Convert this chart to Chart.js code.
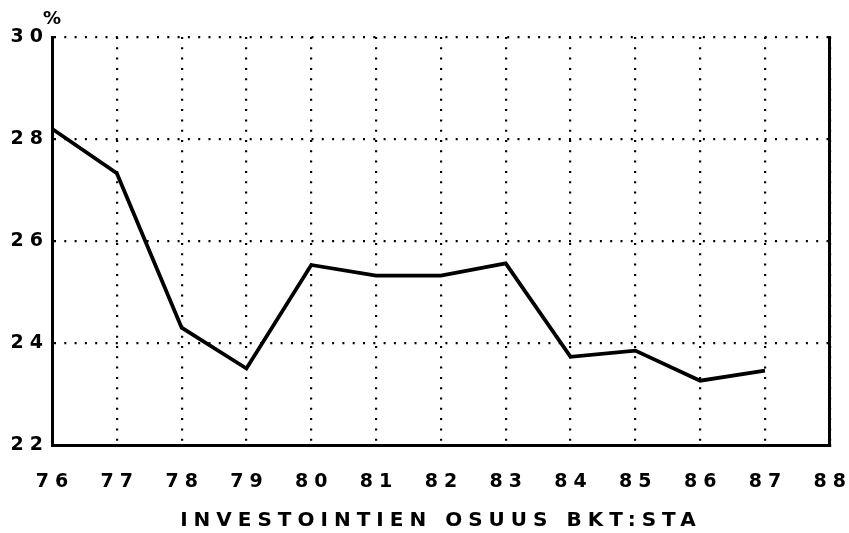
<!DOCTYPE html>
<html>
<head>
<meta charset="utf-8">
<script src="https://cdn.jsdelivr.net/npm/chart.js@4"></script>
<style>
  html, body { margin: 0; padding: 0; background: #fff; }
  #wrap { width: 849px; height: 533px; }
</style>
</head>
<body>
<div id="wrap"><canvas id="chart" width="849" height="533"></canvas></div>
<script>
// vuodet 1976-1987, investointien osuus BKT:sta (%)
const years = [76, 77, 78, 79, 80, 81, 82, 83, 84, 85, 86, 87];
const share = [28.2, 27.33, 24.3, 23.5, 25.53, 25.32, 25.32, 25.56, 23.73, 23.85, 23.26, 23.46];
const xRange = [76, 88];
const yRange = [22, 30];
const yUnit = '%';
const xTitle = 'INVESTOINTIEN OSUUS BKT:STA';

const FONT = '"DejaVu Sans", sans-serif';
const GAP = '6px';

// plotter-tyylinen harva kirjainväli
const spacing = {
    id: 'spacing',
    beforeUpdate(chart) { chart.ctx.letterSpacing = GAP; },
    beforeDraw(chart) { chart.ctx.letterSpacing = GAP; },
    afterDraw(chart) {
        const ctx = chart.ctx;
        ctx.save();
        ctx.letterSpacing = '0px';
        ctx.fillStyle = '#000';
        ctx.font = 'bold 18px ' + FONT;
        ctx.textAlign = 'center';
        ctx.textBaseline = 'middle';
        ctx.fillText(yUnit, chart.chartArea.left, chart.chartArea.top - 18);
        ctx.restore();
    }
};

const dotted = { color: '#000', lineWidth: 2.2 };

new Chart(document.getElementById('chart').getContext('2d'), {
    type: 'line',
    data: {
        datasets: [{
            data: years.map((y, i) => ({ x: y, y: share[i] })),
            borderColor: '#000',
            borderWidth: 3.8,
            pointRadius: 0,
            tension: 0,
            fill: false
        }]
    },
    options: {
        responsive: false,
        animation: false,
        layout: { padding: { top: 37, right: 17, left: 0, bottom: 0 } },
        plugins: { legend: { display: false }, tooltip: { enabled: false } },
        scales: {
            x: {
                type: 'linear',
                min: xRange[0], max: xRange[1],
                afterFit: s => { s.height = 88; },
                grid: { ...dotted, drawTicks: true, tickLength: 26, tickColor: 'rgba(0,0,0,0)' },
                border: { display: true, color: '#000', width: 3, dash: [2, 8.3] },
                ticks: {
                    stepSize: 1, color: '#000', padding: 0, labelOffset: 3,
                    maxRotation: 0, autoSkip: false,
                    font: { family: FONT, size: 19, weight: 'bold' }
                },
                title: {
                    display: true, text: xTitle, color: '#000',
                    padding: { top: 0, bottom: 0 },
                    font: { family: FONT, size: 20, weight: 'bold' }
                }
            },
            y: {
                min: yRange[0], max: yRange[1],
                afterFit: s => { s.width = 52; },
                grid: { ...dotted, drawTicks: false },
                border: { display: true, color: '#000', width: 3, dash: [2, 8.3] },
                ticks: {
                    stepSize: 2, color: '#000', padding: 3,
                    font: { family: FONT, size: 19, weight: 'bold' }
                }
            },
            y2: {
                position: 'right',
                min: yRange[0], max: yRange[1],
                afterFit: s => { s.width = 0; },
                grid: { display: false },
                border: { display: true, color: '#000', width: 3 },
                ticks: { display: false }
            }
        }
    },
    plugins: [spacing]
});
</script>
</body>
</html>
